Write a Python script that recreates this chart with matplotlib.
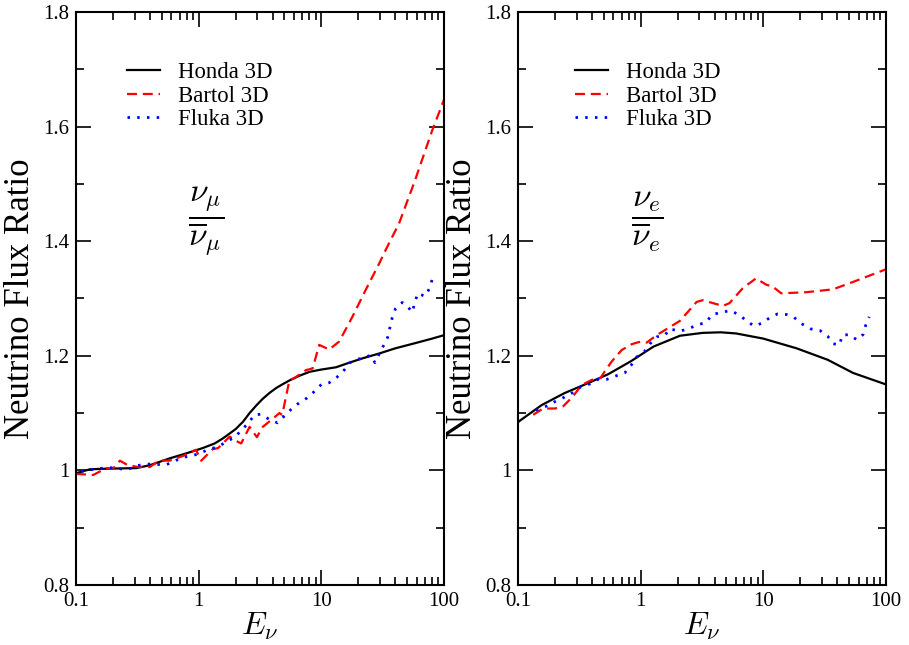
import matplotlib
matplotlib.use("Agg")
import matplotlib.pyplot as plt
from matplotlib.ticker import LogLocator, MultipleLocator, FuncFormatter, NullFormatter

plt.rcParams['font.family'] = ['Liberation Serif', 'DejaVu Serif']
plt.rcParams['mathtext.fontset'] = 'cm'

# ---------------- data: nu_mu / nu_mu-bar (left) ----------------
mu_honda_E = [0.1, 0.13, 0.18, 0.31, 0.4, 0.58, 0.8, 1.08, 1.35, 1.58, 2.0, 2.3, 2.6, 2.94, 3.33, 3.77,
              4.3, 4.8, 5.5, 6.6, 8.0, 10.0, 13.2, 16.9, 22.0, 29.6, 40.0, 58.0, 80.0, 100.0]
mu_honda_R = [0.995, 1.002, 1.003, 1.004, 1.009, 1.021, 1.030, 1.039, 1.047, 1.056, 1.072, 1.085, 1.100, 1.113, 1.125, 1.135,
              1.144, 1.150, 1.157, 1.165, 1.172, 1.176, 1.180, 1.188, 1.196, 1.204, 1.213, 1.222, 1.230, 1.236]

mu_bartol_E = [0.1, 0.138, 0.177, 0.2, 0.228, 0.265, 0.32, 0.4, 0.476, 0.58, 0.74, 0.95,
               1.05, 1.3, 1.44, 1.79, 2.0, 2.22, 2.6, 2.98, 3.33, 3.9, 4.55, 4.8, 5.5,
               6.0, 7.5, 8.5, 9.6, 11.6, 14.0, 17.9, 23.0, 29.6, 33.5, 43.0, 58.0, 80.0, 100.0]
mu_bartol_R = [0.994, 0.992, 1.004, 1.003, 1.017, 1.009, 1.006, 1.006, 1.017, 1.017, 1.025, 1.036,
               1.017, 1.037, 1.039, 1.059, 1.052, 1.047, 1.076, 1.058, 1.076, 1.088, 1.100, 1.097, 1.158,
               1.161, 1.175, 1.178, 1.219, 1.211, 1.225, 1.268, 1.315, 1.361, 1.385, 1.431, 1.506, 1.593, 1.647]

mu_fluka_E = [0.11, 0.13, 0.18, 0.21, 0.26, 0.31, 0.37, 0.44, 0.53, 0.62, 0.74, 0.87, 1.03,
              1.21, 1.44, 1.68, 1.97, 2.25, 2.55, 2.85, 3.2, 3.77, 4.4, 5.0, 5.7, 6.6, 7.6,
              8.8, 10.0, 11.6, 13.3, 15.5, 17.1, 19.5, 22.4, 25.0, 27.4, 29.6, 32.0, 34.7,
              36.3, 37.8, 40.2, 45.6, 50.6, 55.0, 58.0, 61.0, 70.0, 76.4, 80.5]
mu_fluka_R = [0.998, 1.001, 1.005, 1.004, 1.001, 1.008, 1.011, 1.011, 1.009, 1.015, 1.023, 1.025, 1.030,
              1.037, 1.041, 1.050, 1.058, 1.071, 1.083, 1.097, 1.098, 1.089, 1.083, 1.095, 1.107, 1.118, 1.126,
              1.138, 1.150, 1.153, 1.162, 1.176, 1.188, 1.194, 1.196, 1.201, 1.188, 1.203, 1.217, 1.232,
              1.250, 1.266, 1.282, 1.293, 1.286, 1.276, 1.293, 1.309, 1.304, 1.318, 1.335]

# ---------------- data: nu_e / nu_e-bar (right) ----------------
e_honda_E = [0.1, 0.104, 0.156, 0.24, 0.37, 0.545, 0.84, 1.27, 2.09, 3.2, 4.5, 6.0, 10.0,
             18.7, 33.5, 54.0, 100.0]
e_honda_R = [1.084, 1.087, 1.114, 1.135, 1.152, 1.168, 1.191, 1.216, 1.235, 1.240, 1.241, 1.239, 1.230,
             1.213, 1.193, 1.170, 1.150]

e_bartol_E = [0.133, 0.16, 0.2, 0.234, 0.28, 0.33, 0.4, 0.47, 0.5, 0.58, 0.7, 0.84, 0.93, 1.02,
              1.12, 1.35, 2.09, 2.86, 3.2, 4.69, 5.3, 6.8, 8.7, 10.6, 11.9, 14.0, 22.5, 37.0,
              54.0, 100.0]
e_bartol_R = [1.097, 1.108, 1.108, 1.112, 1.129, 1.149, 1.158, 1.161, 1.170, 1.190, 1.210, 1.220, 1.223, 1.225,
              1.223, 1.236, 1.261, 1.294, 1.297, 1.287, 1.292, 1.318, 1.335, 1.324, 1.321, 1.309, 1.311, 1.316,
              1.329, 1.351]

e_fluka_E = [0.14, 0.17, 0.2, 0.24, 0.28, 0.32, 0.385, 0.45, 0.53, 0.63, 0.74, 0.84, 0.93, 1.07,
             1.19, 1.35, 1.58, 1.72, 2.09, 2.44, 2.9, 3.4, 3.83, 4.6, 5.4, 6.4, 7.3, 8.4, 9.75,
             11.2, 13.0, 15.5, 17.8, 20.5, 24.3, 29.0, 33.5, 37.2, 41.8, 44.0, 50.0, 57.8, 65.0,
             68.5, 73.0]
e_fluka_R = [1.105, 1.112, 1.120, 1.128, 1.136, 1.145, 1.151, 1.159, 1.159, 1.165, 1.170, 1.184, 1.198, 1.207,
             1.221, 1.233, 1.236, 1.247, 1.243, 1.247, 1.254, 1.258, 1.272, 1.276, 1.279, 1.271, 1.261, 1.252, 1.257,
             1.266, 1.273, 1.272, 1.267, 1.256, 1.247, 1.244, 1.234, 1.221, 1.219, 1.236, 1.237, 1.228, 1.237,
             1.254, 1.268]

labels = ["Honda 3D", "Bartol 3D", "Fluka 3D"]
panel_labels = [r'$\dfrac{\nu_\mu}{\overline{\nu}_\mu}$', r'$\dfrac{\nu_e}{\overline{\nu}_e}$']
y_ticks = [0.8, 1.0, 1.2, 1.4, 1.6, 1.8]

fig = plt.figure(figsize=(9.09, 6.45), dpi=100)
W, H = 909, 645
axL = fig.add_axes([76 / W, (H - 585) / H, 368 / W, 573 / H])
axR = fig.add_axes([518 / W, (H - 585) / H, 368 / W, 573 / H])

panels = [
    (axL, (mu_honda_E, mu_honda_R), (mu_bartol_E, mu_bartol_R), (mu_fluka_E, mu_fluka_R), 0.139),
    (axR, (e_honda_E, e_honda_R), (e_bartol_E, e_bartol_R), (e_fluka_E, e_fluka_R), 0.155),
]

fmt = FuncFormatter(lambda v, p: "%g" % v)

for i, (ax, hon, bar, flu, lx) in enumerate(panels):
    ax.plot(hon[0], hon[1], color='black', lw=1.6, ls='-', label=labels[0])
    ax.plot(bar[0], bar[1], color='#ff0000', lw=1.6, ls=(0, (4.5, 2.6)), label=labels[1])
    ax.plot(flu[0], flu[1], color='#0000ff', lw=2.0, ls=(0, (0.9, 2.6)), label=labels[2])
    ax.set_xscale('log')
    ax.set_xlim(0.1, 100)
    ax.set_ylim(0.8, 1.8)
    ax.xaxis.set_major_locator(LogLocator(base=10, numticks=10))
    ax.xaxis.set_minor_locator(LogLocator(base=10, subs=range(2, 10), numticks=20))
    ax.xaxis.set_major_formatter(fmt)
    ax.xaxis.set_minor_formatter(NullFormatter())
    ax.set_yticks(y_ticks)
    ax.yaxis.set_minor_locator(MultipleLocator(0.1))
    ax.yaxis.set_major_formatter(fmt)
    ax.tick_params(which='both', direction='in', top=True, right=True, width=1.2,
                   labelsize=15, pad=5)
    ax.tick_params(which='major', length=11)
    ax.tick_params(which='minor', length=5.5)
    for s in ax.spines.values():
        s.set_linewidth(1.5)
    ax.set_ylabel('Neutrino Flux Ratio', fontsize=25, labelpad=4)
    ax.set_xlabel(r'$E_\nu$', fontsize=23, labelpad=0)
    ax.text(0.353, 0.634, panel_labels[i], transform=ax.transAxes, fontsize=24,
            ha='center', va='center')
    ax.legend(loc='upper left', bbox_to_anchor=(lx, 0.912), frameon=False, fontsize=16.4,
              borderpad=0, borderaxespad=0, handlelength=1.45, handletextpad=0.8,
              labelspacing=0.1)

fig.savefig('out.png', dpi=100)
